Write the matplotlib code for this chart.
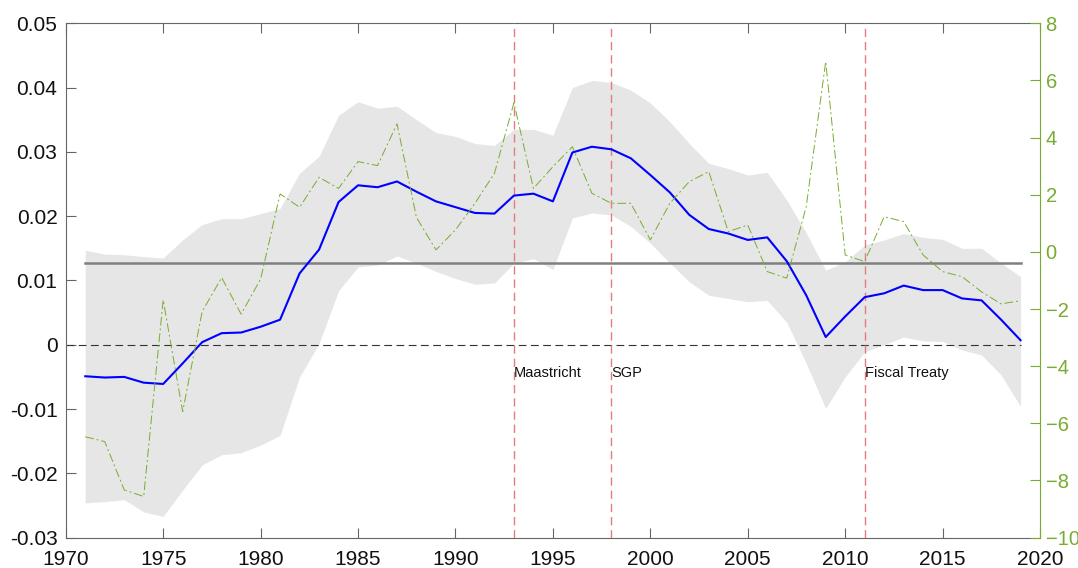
import numpy as np
import matplotlib.pyplot as plt

plt.rcParams['font.family'] = ['Liberation Sans', 'DejaVu Sans']

years = np.arange(1971, 2020)

# estimated effect (left axis)
effect = [-0.0049, -0.0051, -0.0050, -0.0059, -0.0061, -0.0029, 0.0004, 0.0018, 0.0019, 0.0028,
          0.0039, 0.0111, 0.0148, 0.0222, 0.0248, 0.0245, 0.0254, 0.0238, 0.0223, 0.0214,
          0.0205, 0.0204, 0.0232, 0.0235, 0.0223, 0.0299, 0.0308, 0.0304, 0.0290, 0.0264,
          0.0237, 0.0202, 0.0180, 0.0173, 0.0163, 0.0167, 0.0130, 0.0077, 0.0012, 0.0044,
          0.0074, 0.0080, 0.0092, 0.0085, 0.0085, 0.0072, 0.0069, 0.0039, 0.0007]

# confidence band
upper = [0.0147, 0.0141, 0.0140, 0.0137, 0.0135, 0.0163, 0.0187, 0.0196, 0.0196, 0.0204,
         0.0212, 0.0267, 0.0293, 0.0357, 0.0378, 0.0368, 0.0371, 0.0350, 0.0330, 0.0324,
         0.0313, 0.0310, 0.0335, 0.0335, 0.0326, 0.0400, 0.0411, 0.0408, 0.0396, 0.0376,
         0.0347, 0.0313, 0.0282, 0.0274, 0.0264, 0.0268, 0.0225, 0.0174, 0.0116, 0.0129,
         0.0155, 0.0163, 0.0173, 0.0167, 0.0164, 0.0150, 0.0150, 0.0127, 0.0106]
lower = [-0.0246, -0.0244, -0.0241, -0.0260, -0.0267, -0.0226, -0.0187, -0.0171, -0.0168, -0.0156,
         -0.0141, -0.0050, 0.0002, 0.0084, 0.0121, 0.0124, 0.0138, 0.0127, 0.0114, 0.0103,
         0.0094, 0.0096, 0.0127, 0.0134, 0.0117, 0.0197, 0.0205, 0.0202, 0.0184, 0.0158,
         0.0127, 0.0098, 0.0077, 0.0072, 0.0067, 0.0069, 0.0035, -0.0029, -0.0099, -0.0050,
         -0.0011, 0.0000, 0.0012, 0.0006, 0.0005, -0.0008, -0.0016, -0.0047, -0.0096]

# second series (right axis)
balance = [-6.47, -6.64, -8.33, -8.56, -1.68, -5.59, -2.09, -0.90, -2.18, -0.95,
           2.03, 1.56, 2.61, 2.22, 3.16, 3.02, 4.48, 1.20, 0.07, 0.77,
           1.70, 2.75, 5.22, 2.22, 2.98, 3.68, 2.05, 1.70, 1.70, 0.42,
           1.70, 2.46, 2.81, 0.71, 0.94, -0.69, -0.92, 1.58, 6.66, -0.11,
           -0.34, 1.23, 1.06, -0.11, -0.69, -0.87, -1.40, -1.82, -1.71]

avg_effect = 0.0127

events = [1993, 1998, 2011]
event_names = ['Maastricht', 'SGP', 'Fiscal Treaty']

green = '#77ac30'
axis_grey = '#666666'

fig = plt.figure(figsize=(10.78, 5.68), dpi=100)
ax = fig.add_axes([0.061, 0.0535, 0.9038, 0.9055])

ax.fill_between(years, lower, upper, color='#e6e6e6', linewidth=0, zorder=1)
ax.plot([years[0], years[-1]], [avg_effect, avg_effect], color='#808080', lw=1.8, zorder=2)
ax.plot([1970, years[-1]], [0, 0], color='#333333', lw=0.8, linestyle=(0, (7, 4)), zorder=2)
ax.plot(years, effect, color='#0000ff', lw=1.5, zorder=4)

# policy events
for yr, name in zip(events, event_names):
    ax.axvline(yr, color='#e57c7c', lw=1.0, linestyle=(0, (6, 3.5)), zorder=3)
    ax.text(yr, -0.0044, name, ha='left', va='center', fontsize=10.5, color='#111111', zorder=5)

ax.set_xlim(1970, 2020)
ax.set_ylim(-0.03, 0.05)
ax.set_xticks(np.arange(1970, 2021, 5))
ax.set_yticks(np.arange(-0.03, 0.051, 0.01))
ax.set_yticklabels(['-0.03', '-0.02', '-0.01', '0', '0.01', '0.02', '0.03', '0.04', '0.05'])
ax.tick_params(direction='in', length=7, width=0.8, color=axis_grey, labelsize=15,
               labelcolor='#111111', top=True, pad=6)
ax.tick_params(axis='x', pad=9)
for side in ['left', 'top', 'bottom']:
    ax.spines[side].set_color(axis_grey)
    ax.spines[side].set_linewidth(0.8)
ax.spines['right'].set_visible(False)

ax2 = ax.twinx()
ax2.plot(years, balance, color=green, lw=0.7, linestyle=(0, (9, 3, 2, 3)), zorder=3)
ax2.set_ylim(-10, 8)
ax2.set_yticks(np.arange(-10, 9, 2))
ax2.tick_params(direction='in', length=7, width=0.8, color=green, labelcolor=green,
                labelsize=14.5, pad=4)
ax2.spines['right'].set_color(green)
ax2.spines['right'].set_linewidth(0.8)
for side in ['left', 'top', 'bottom']:
    ax2.spines[side].set_visible(False)

fig.savefig('out.png', dpi=100)
